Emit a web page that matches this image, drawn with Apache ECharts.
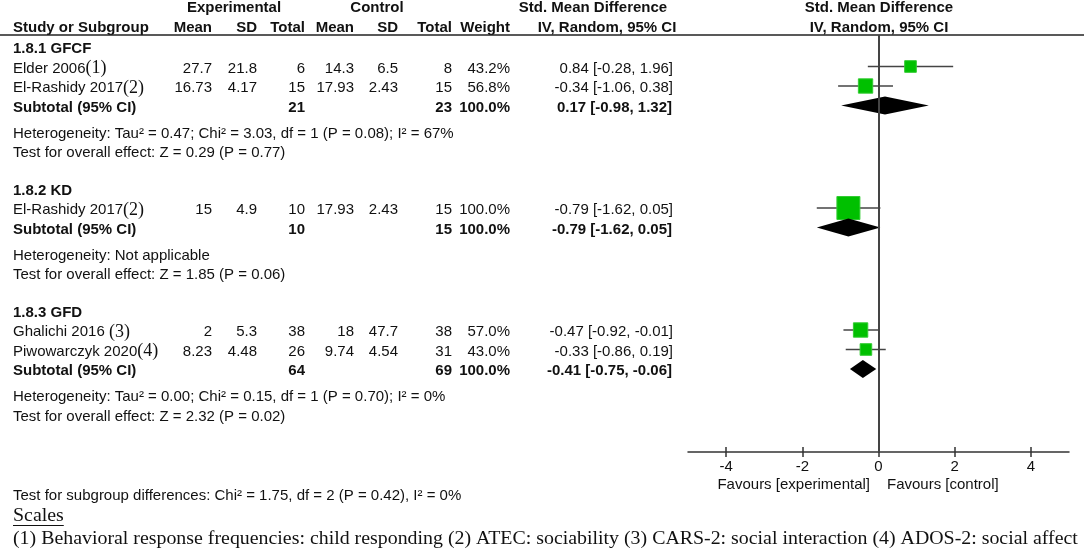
<!DOCTYPE html>
<html>
<head>
<meta charset="utf-8">
<script src="https://cdn.jsdelivr.net/npm/echarts@6/dist/echarts.min.js"></script>
<style>
  html, body { margin: 0; padding: 0; background: #fff; }
  #chart { width: 1084px; height: 552px; }
</style>
</head>
<body>
<div id="chart"></div>
<script>
// 分组与研究数据
const groupNames = ['1.8.1 GFCF', '1.8.2 KD', '1.8.3 GFD']
const studyNames = ['Elder 2006', 'El-Rashidy 2017', 'El-Rashidy 2017', 'Ghalichi 2016 ', 'Piwowarczyk 2020']
const studyNotes = ['(1)', '(2)', '(2)', '(3)', '(4)']
const studyGroup = [0, 0, 1, 2, 2]
const expMean = [27.7, 16.73, 15, 2, 8.23]
const expSD = [21.8, 4.17, 4.9, 5.3, 4.48]
const expTotal = [6, 15, 10, 38, 26]
const ctlMean = [14.3, 17.93, 17.93, 18, 9.74]
const ctlSD = [6.5, 2.43, 2.43, 47.7, 4.54]
const ctlTotal = [8, 15, 15, 38, 31]
const weight = [43.2, 56.8, 100, 57.0, 43.0]
const smd = [0.84, -0.34, -0.79, -0.47, -0.33]
const ciLow = [-0.28, -1.06, -1.62, -0.92, -0.86]
const ciHigh = [1.96, 0.38, 0.05, -0.01, 0.19]

// 小计
const subExpTotal = [21, 10, 64]
const subCtlTotal = [23, 15, 69]
const subSmd = [0.17, -0.79, -0.41]
const subLow = [-0.98, -1.62, -0.75]
const subHigh = [1.32, 0.05, -0.06]
const heterogeneity = [
  'Heterogeneity: Tau² = 0.47; Chi² = 3.03, df = 1 (P = 0.08); I² = 67%',
  'Heterogeneity: Not applicable',
  'Heterogeneity: Tau² = 0.00; Chi² = 0.15, df = 1 (P = 0.70); I² = 0%'
]
const overallEffect = [
  'Test for overall effect: Z = 0.29 (P = 0.77)',
  'Test for overall effect: Z = 1.85 (P = 0.06)',
  'Test for overall effect: Z = 2.32 (P = 0.02)'
]
const subgroupTest = 'Test for subgroup differences: Chi² = 1.75, df = 2 (P = 0.42), I² = 0%'
const xTicks = [-4, -2, 0, 2, 4]
const favours = ['Favours [experimental]', 'Favours [control]']
const scalesTitle = 'Scales'
const scalesNote = '(1) Behavioral response frequencies: child responding (2) ATEC: sociability (3) CARS-2: social interaction (4) ADOS-2: social affect'

// 行布局
const SANS = '"Liberation Sans", Arial, sans-serif'
const SERIF = '"Liberation Serif", "Times New Roman", serif'
let rows = []
let studyY = []
let subY = []
let y = 47
groupNames.forEach((g, gi) => {
  rows.push({ kind: 'group', gi, y })
  y += 19.5
  studyGroup.forEach((sg, si) => {
    if (sg === gi) {
      rows.push({ kind: 'study', si, y })
      studyY[si] = y
      y += 19.5
    }
  })
  rows.push({ kind: 'sub', gi, y })
  subY[gi] = y
  y += 26
  rows.push({ kind: 'het', gi, y })
  y += 19.5
  rows.push({ kind: 'test', gi, y })
  y += 37.5
})

// 列位置
const col = { name: 13, eMean: 212, eSD: 257, eTot: 305, cMean: 354, cSD: 398, cTot: 452, wt: 510, ci: 673 }
const TEXT_DY = 2

function txt(text, x, yy, opt) {
  opt = opt || {}
  return {
    type: 'text', x, y: yy, silent: true,
    style: {
      text,
      align: opt.align || 'left',
      verticalAlign: 'middle',
      fill: '#111',
      fontSize: opt.size || 15,
      fontWeight: opt.bold ? 'bold' : 'normal',
      fontFamily: opt.family || SANS,
      rich: opt.rich
    }
  }
}
function fmtCI(e, l, h) {
  return e.toFixed(2) + ' [' + l.toFixed(2) + ', ' + h.toFixed(2) + ']'
}

let graphics = []
// 表头
graphics.push(txt('Experimental', 234, 8, { align: 'center', bold: true }))
graphics.push(txt('Control', 377, 8, { align: 'center', bold: true }))
graphics.push(txt('Std. Mean Difference', 593, 8, { align: 'center', bold: true }))
graphics.push(txt('Std. Mean Difference', 879, 8, { align: 'center', bold: true }))
graphics.push(txt('Study or Subgroup', col.name, 28, { bold: true }))
;[['Mean', col.eMean], ['SD', col.eSD], ['Total', col.eTot], ['Mean', col.cMean], ['SD', col.cSD], ['Total', col.cTot], ['Weight', col.wt]].forEach(h => {
  graphics.push(txt(h[0], h[1], 28, { align: 'right', bold: true }))
})
graphics.push(txt('IV, Random, 95% CI', 607, 28, { align: 'center', bold: true }))
graphics.push(txt('IV, Random, 95% CI', 879, 28, { align: 'center', bold: true }))
graphics.push({ type: 'line', silent: true, shape: { x1: 0, y1: 35, x2: 1084, y2: 35 }, style: { stroke: '#222', lineWidth: 1.5 } })

rows.forEach(r => {
  const ty = r.y + TEXT_DY
  if (r.kind === 'group') {
    graphics.push(txt(groupNames[r.gi], col.name, ty, { bold: true }))
  } else if (r.kind === 'study') {
    const i = r.si
    graphics.push(txt('{n|' + studyNames[i] + '}{r|' + studyNotes[i] + '}', col.name, ty, {
      rich: { n: { fontSize: 15, fontFamily: SANS, fill: '#111' }, r: { fontSize: 18, fontFamily: SERIF, fill: '#111' } }
    }))
    graphics.push(txt(String(expMean[i]), col.eMean, ty, { align: 'right' }))
    graphics.push(txt(String(expSD[i]), col.eSD, ty, { align: 'right' }))
    graphics.push(txt(String(expTotal[i]), col.eTot, ty, { align: 'right' }))
    graphics.push(txt(String(ctlMean[i]), col.cMean, ty, { align: 'right' }))
    graphics.push(txt(String(ctlSD[i]), col.cSD, ty, { align: 'right' }))
    graphics.push(txt(String(ctlTotal[i]), col.cTot, ty, { align: 'right' }))
    graphics.push(txt(weight[i].toFixed(1) + '%', col.wt, ty, { align: 'right' }))
    graphics.push(txt(fmtCI(smd[i], ciLow[i], ciHigh[i]), col.ci, ty, { align: 'right' }))
  } else if (r.kind === 'sub') {
    const g = r.gi
    graphics.push(txt('Subtotal (95% CI)', col.name, ty, { bold: true }))
    graphics.push(txt(String(subExpTotal[g]), col.eTot, ty, { align: 'right', bold: true }))
    graphics.push(txt(String(subCtlTotal[g]), col.cTot, ty, { align: 'right', bold: true }))
    graphics.push(txt('100.0%', col.wt, ty, { align: 'right', bold: true }))
    graphics.push(txt(fmtCI(subSmd[g], subLow[g], subHigh[g]), col.ci - 1, ty, { align: 'right', bold: true }))
  } else if (r.kind === 'het') {
    graphics.push(txt(heterogeneity[r.gi], col.name, ty))
  } else {
    graphics.push(txt(overallEffect[r.gi], col.name, ty))
  }
})

// 底部文字
graphics.push(txt(favours[0], 870, 485, { align: 'right' }))
graphics.push(txt(favours[1], 887, 485))
graphics.push(txt(subgroupTest, col.name, 496))

// 脚注字号按宽度算
const ctx = document.createElement('canvas').getContext('2d')
ctx.font = '18px ' + SERIF
const noteSize = Math.min(21, 18 * 1066 / ctx.measureText(scalesNote).width)
ctx.font = noteSize + 'px ' + SERIF
const scalesW = ctx.measureText(scalesTitle).width
graphics.push(txt(scalesTitle, col.name, 516, { size: noteSize, family: SERIF }))
graphics.push({ type: 'line', silent: true, shape: { x1: col.name, y1: 525.5, x2: col.name + scalesW, y2: 525.5 }, style: { stroke: '#111', lineWidth: 1 } })
graphics.push(txt(scalesNote, col.name, 539, { size: noteSize, family: SERIF }))

// 森林图数据
const studyData = smd.map((v, i) => [v, ciLow[i], ciHigh[i], weight[i], studyY[i]])
const subData = subSmd.map((v, g) => [v, subLow[g], subHigh[g], subY[g]])

let myChart = echarts.init(document.getElementById('chart'))
let option = {
  animation: false,
  textStyle: { fontFamily: SANS },
  grid: { left: 688, width: 381, top: 35, height: 417 },
  xAxis: [{
    type: 'value', min: -5, max: 5,
    splitLine: { show: false },
    axisLine: { lineStyle: { color: '#333', width: 1.5 } },
    axisTick: { customValues: xTicks, length: 5, lineStyle: { color: '#333', width: 1.5 } },
    axisLabel: { customValues: xTicks, margin: 7, color: '#111', fontSize: 15, fontFamily: SANS }
  }, {
    type: 'value', min: -5, max: 5, position: 'bottom',
    splitLine: { show: false },
    axisLine: { show: false },
    axisTick: { customValues: xTicks, inside: true, length: 5, lineStyle: { color: '#333', width: 1.5 } },
    axisLabel: { show: false }
  }],
  yAxis: { type: 'value', min: 35, max: 452, inverse: true, show: false },
  graphic: graphics,
  series: [{
    type: 'custom',
    data: studyData,
    renderItem: function (params, api) {
      const yy = api.value(4)
      const pLo = api.coord([api.value(1), yy])
      const pHi = api.coord([api.value(2), yy])
      const pE = api.coord([api.value(0), yy])
      const s = 3 + 0.2 * api.value(3)
      return {
        type: 'group',
        children: [
          { type: 'line', shape: { x1: pLo[0], y1: pLo[1], x2: pHi[0], y2: pHi[1] }, style: { stroke: '#444', lineWidth: 1.5 } },
          { type: 'rect', shape: { x: pE[0] - s / 2, y: pE[1] - s / 2, width: s, height: s }, style: { fill: '#00c000', stroke: '#33cc33', lineWidth: 1 } }
        ]
      }
    },
    markLine: {
      silent: true, symbol: 'none', animation: false,
      label: { show: false },
      lineStyle: { color: '#444', width: 2, type: 'solid' },
      data: [{ xAxis: 0 }]
    },
    z: 3
  }, {
    type: 'custom',
    data: subData,
    renderItem: function (params, api) {
      const yy = api.value(3)
      const pLo = api.coord([api.value(1), yy])
      const pHi = api.coord([api.value(2), yy])
      const pE = api.coord([api.value(0), yy])
      const h = 9
      return {
        type: 'polygon',
        shape: { points: [[pLo[0], pLo[1]], [pE[0], pE[1] - h], [pHi[0], pHi[1]], [pE[0], pE[1] + h]] },
        style: { fill: '#000' }
      }
    },
    z: 4
  }]
}
myChart.setOption(option)
</script>
</body>
</html>
